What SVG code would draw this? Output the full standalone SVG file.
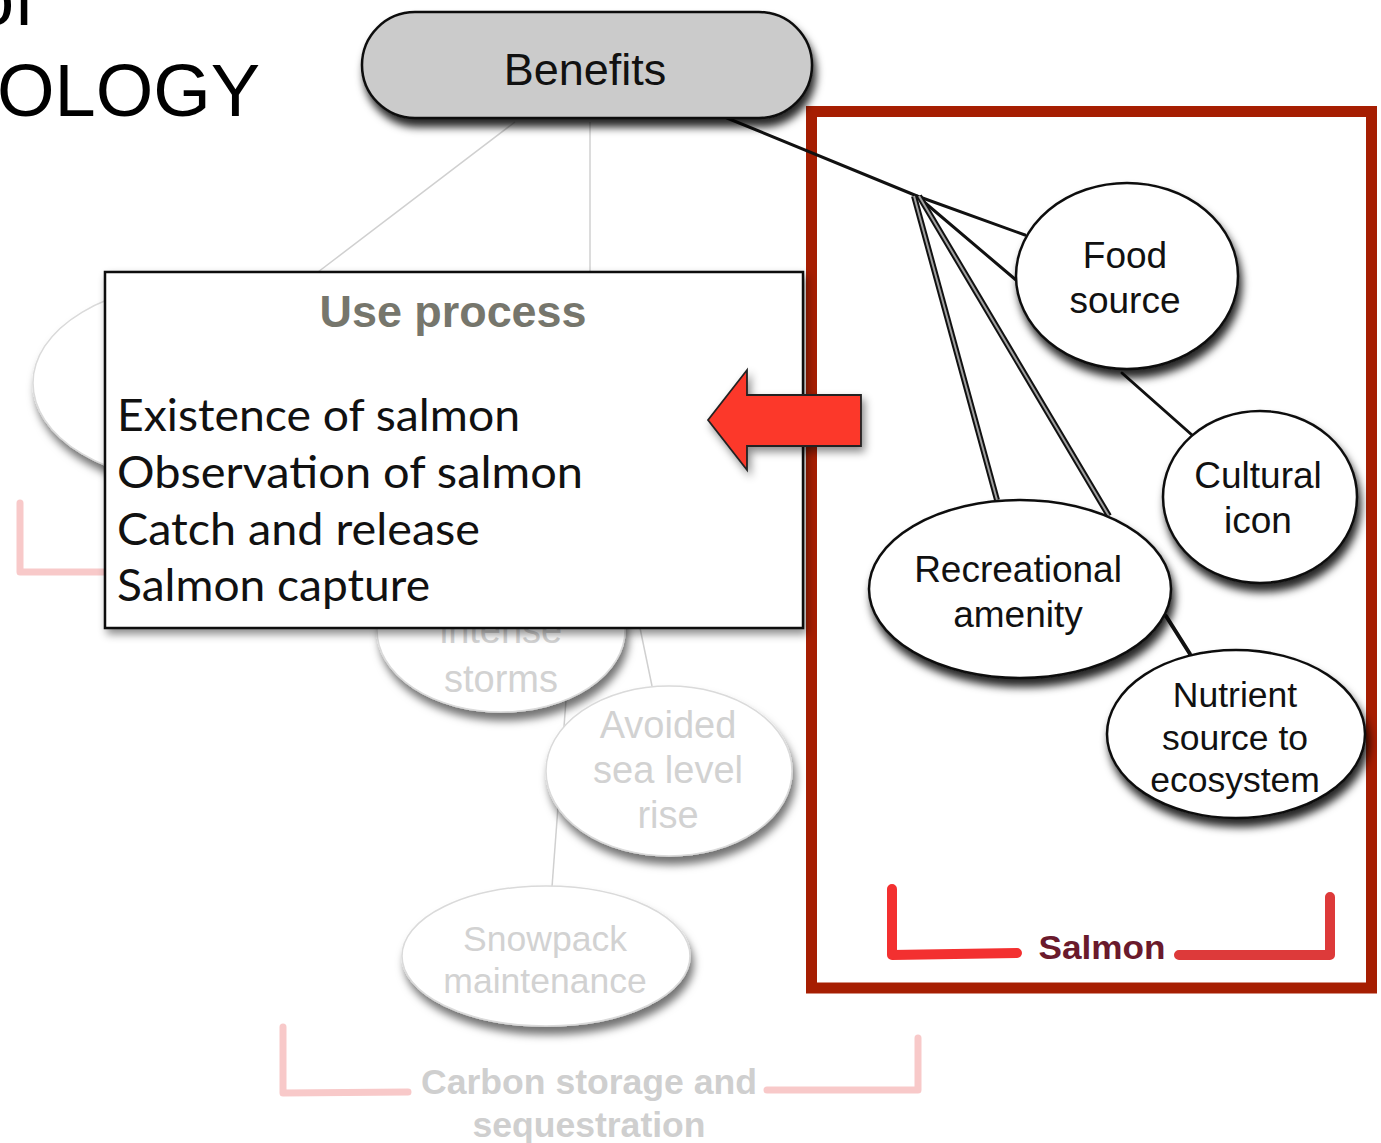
<svg xmlns="http://www.w3.org/2000/svg" width="1381" height="1143" viewBox="0 0 1381 1143">
  <defs>
    <filter id="shadow" x="-20%" y="-20%" width="150%" height="160%">
      <feDropShadow dx="3" dy="8" stdDeviation="4" flood-color="#000" flood-opacity="0.85"/>
    </filter>
    <filter id="fadedShadow" x="-20%" y="-20%" width="150%" height="160%">
      <feDropShadow dx="3" dy="8" stdDeviation="4" flood-color="#000" flood-opacity="0.55"/>
    </filter>
    <filter id="boxShadow" x="-10%" y="-10%" width="130%" height="130%">
      <feDropShadow dx="3" dy="5" stdDeviation="4" flood-color="#000" flood-opacity="0.45"/>
    </filter>
    <style>
      .node { fill: #ffffff; stroke: #111111; stroke-width: 2.5; filter: url(#shadow); }
      .faded { fill: #ffffff; stroke: #dadada; stroke-width: 1.5; filter: url(#fadedShadow); }
      .label { font-family: "Liberation Sans", Arial, sans-serif; font-size: 37px; fill: #111111; text-anchor: middle; }
      .fadedLabel { font-family: "Liberation Sans", Arial, sans-serif; font-size: 38px; fill: #d2d2d2; text-anchor: middle; }
      .faintLine { stroke: #d0d0d0; stroke-width: 1.5; fill: none; }
      .link { stroke: #111111; stroke-width: 3; fill: none; stroke-linecap: round; }
      .dblOuter { stroke: #111111; stroke-width: 6; fill: none; }
      .dblInner { stroke: #a0a0a0; stroke-width: 2; fill: none; }
      .pink { stroke: #f8c9c9; stroke-width: 7; fill: none; stroke-linecap: round; stroke-linejoin: round; }
      .listItem { font-family: Lato, "Open Sans", sans-serif; font-size: 45px; fill: #111111; }
    </style>
  </defs>

  <rect width="1381" height="1143" fill="#ffffff"/>

  <!-- heading fragment at the top left -->
  <g id="heading" font-family="Liberation Sans, Arial, sans-serif" font-size="74" fill="#000">
    <text x="-27" y="25">of</text>
    <text x="-3" y="116">OLOGY</text>
  </g>

  <!-- muted background part of the map -->
  <g id="faded-connectors">
    <line class="faintLine" x1="515" y1="122" x2="318" y2="272"/>
    <line class="faintLine" x1="590" y1="122" x2="590" y2="272"/>
    <line class="faintLine" x1="640" y1="628" x2="652" y2="686"/>
    <line class="faintLine" x1="566" y1="700" x2="552" y2="887"/>
  </g>

  <g id="node-hidden-left">
    <ellipse class="faded" cx="200" cy="383" rx="167" ry="100"/>
  </g>
  <path class="pink" d="M20,503 L20,572 L108,572"/>

  <g id="node-storms">
    <ellipse class="faded" cx="501" cy="630" rx="124" ry="82"/>
    <text class="fadedLabel" x="501" y="643">intense</text>
    <text class="fadedLabel" x="501" y="692">storms</text>
  </g>

  <g id="node-sea-level">
    <ellipse class="faded" cx="669" cy="771" rx="123" ry="85"/>
    <text class="fadedLabel" x="668" y="738">Avoided</text>
    <text class="fadedLabel" x="668" y="783">sea level</text>
    <text class="fadedLabel" x="668" y="828">rise</text>
  </g>

  <g id="node-snowpack">
    <ellipse class="faded" cx="546" cy="956" rx="144" ry="70"/>
    <text class="fadedLabel" x="545" y="951" style="font-size:35.5px">Snowpack</text>
    <text class="fadedLabel" x="545" y="993" style="font-size:35.5px">maintenance</text>
  </g>

  <g id="group-carbon">
    <path class="pink" d="M283,1027 L283,1093 L408,1092"/>
    <path class="pink" d="M767,1090 L918,1090 L918,1038"/>
    <text x="589" y="1094" font-family="Liberation Sans, Arial, sans-serif" font-weight="bold" font-size="35" fill="#cfcfcf" text-anchor="middle" textLength="336" lengthAdjust="spacingAndGlyphs">Carbon storage and</text>
    <text x="589" y="1137" font-family="Liberation Sans, Arial, sans-serif" font-weight="bold" font-size="35" fill="#cfcfcf" text-anchor="middle" textLength="233" lengthAdjust="spacingAndGlyphs">sequestration</text>
  </g>

  <!-- salmon frame -->
  <g id="salmon-frame">
    <rect x="811.5" y="111.5" width="560" height="876.5" fill="none" stroke="#a61e02" stroke-width="11"/>
    <path d="M892,889 L892,955 L1017,953" fill="none" stroke="#f33030" stroke-width="10" stroke-linecap="round" stroke-linejoin="round"/>
    <path d="M1179,955 L1330,955 L1330,897" fill="none" stroke="#dd3a3a" stroke-width="10" stroke-linecap="round" stroke-linejoin="round"/>
    <text x="1102" y="959" font-family="Liberation Sans, Arial, sans-serif" font-weight="bold" font-size="34" fill="#6a1a2c" text-anchor="middle" textLength="127" lengthAdjust="spacingAndGlyphs">Salmon</text>
  </g>

  <!-- benefit links -->
  <g id="connectors">
    <polyline class="link" points="727,118 917,196 1025,235"/>
    <line class="link" x1="917" y1="196" x2="1016" y2="280"/>
    <line class="dblOuter" x1="914" y1="196" x2="997" y2="500"/>
    <line class="dblInner" x1="914" y1="196" x2="997" y2="500"/>
    <line class="dblOuter" x1="919" y1="196" x2="1109" y2="516"/>
    <line class="dblInner" x1="919" y1="196" x2="1109" y2="516"/>
    <line class="link" x1="1122" y1="373" x2="1192" y2="435"/>
    <line class="link" x1="1166" y1="616" x2="1190" y2="654" style="stroke-width:4"/>
  </g>

  <g id="node-benefits">
    <rect x="362" y="12" width="450" height="106" rx="53" ry="53" fill="#cbcbcb" stroke="#111" stroke-width="2.5" filter="url(#shadow)"/>
    <text x="585" y="85" font-family="Liberation Sans, Arial, sans-serif" font-size="45" fill="#111" text-anchor="middle">Benefits</text>
  </g>

  <g id="node-food-source">
    <ellipse class="node" cx="1127" cy="276" rx="111" ry="93"/>
    <text class="label" x="1125" y="268">Food</text>
    <text class="label" x="1125" y="313">source</text>
  </g>

  <g id="node-cultural-icon">
    <ellipse class="node" cx="1260" cy="497" rx="97" ry="86"/>
    <text class="label" x="1258" y="488">Cultural</text>
    <text class="label" x="1258" y="533">icon</text>
  </g>

  <g id="node-recreational">
    <ellipse class="node" cx="1020" cy="589" rx="151" ry="89"/>
    <text class="label" x="1018" y="582">Recreational</text>
    <text class="label" x="1018" y="627">amenity</text>
  </g>

  <g id="node-nutrient">
    <ellipse class="node" cx="1236" cy="734" rx="129" ry="84"/>
    <text class="label" x="1235" y="707" style="font-size:35.5px">Nutrient</text>
    <text class="label" x="1235" y="750" style="font-size:35.5px">source to</text>
    <text class="label" x="1235" y="792" style="font-size:35.5px">ecosystem</text>
  </g>

  <!-- use process panel -->
  <g id="node-use-process">
    <rect x="105" y="272" width="698" height="356" fill="#ffffff" stroke="#111" stroke-width="2.5" filter="url(#boxShadow)"/>
    <text x="453" y="327" font-family="Liberation Sans, Arial, sans-serif" font-weight="bold" font-size="44" fill="#76766c" text-anchor="middle" textLength="267" lengthAdjust="spacingAndGlyphs">Use process</text>
    <text class="listItem" x="117" y="431" textLength="403" lengthAdjust="spacingAndGlyphs">Existence of salmon</text>
    <text class="listItem" x="117" y="488" textLength="466" lengthAdjust="spacingAndGlyphs">Observation of salmon</text>
    <text class="listItem" x="117" y="545" textLength="363" lengthAdjust="spacingAndGlyphs">Catch and release</text>
    <text class="listItem" x="117" y="601" textLength="313" lengthAdjust="spacingAndGlyphs">Salmon capture</text>
  </g>

  <g id="arrow">
    <polygon points="708,420 747,370 747,395 861,395 861,446 747,446 747,470" fill="#fc372b" stroke="#222" stroke-width="1.8" stroke-linejoin="miter" filter="url(#boxShadow)"/>
  </g>
</svg>
